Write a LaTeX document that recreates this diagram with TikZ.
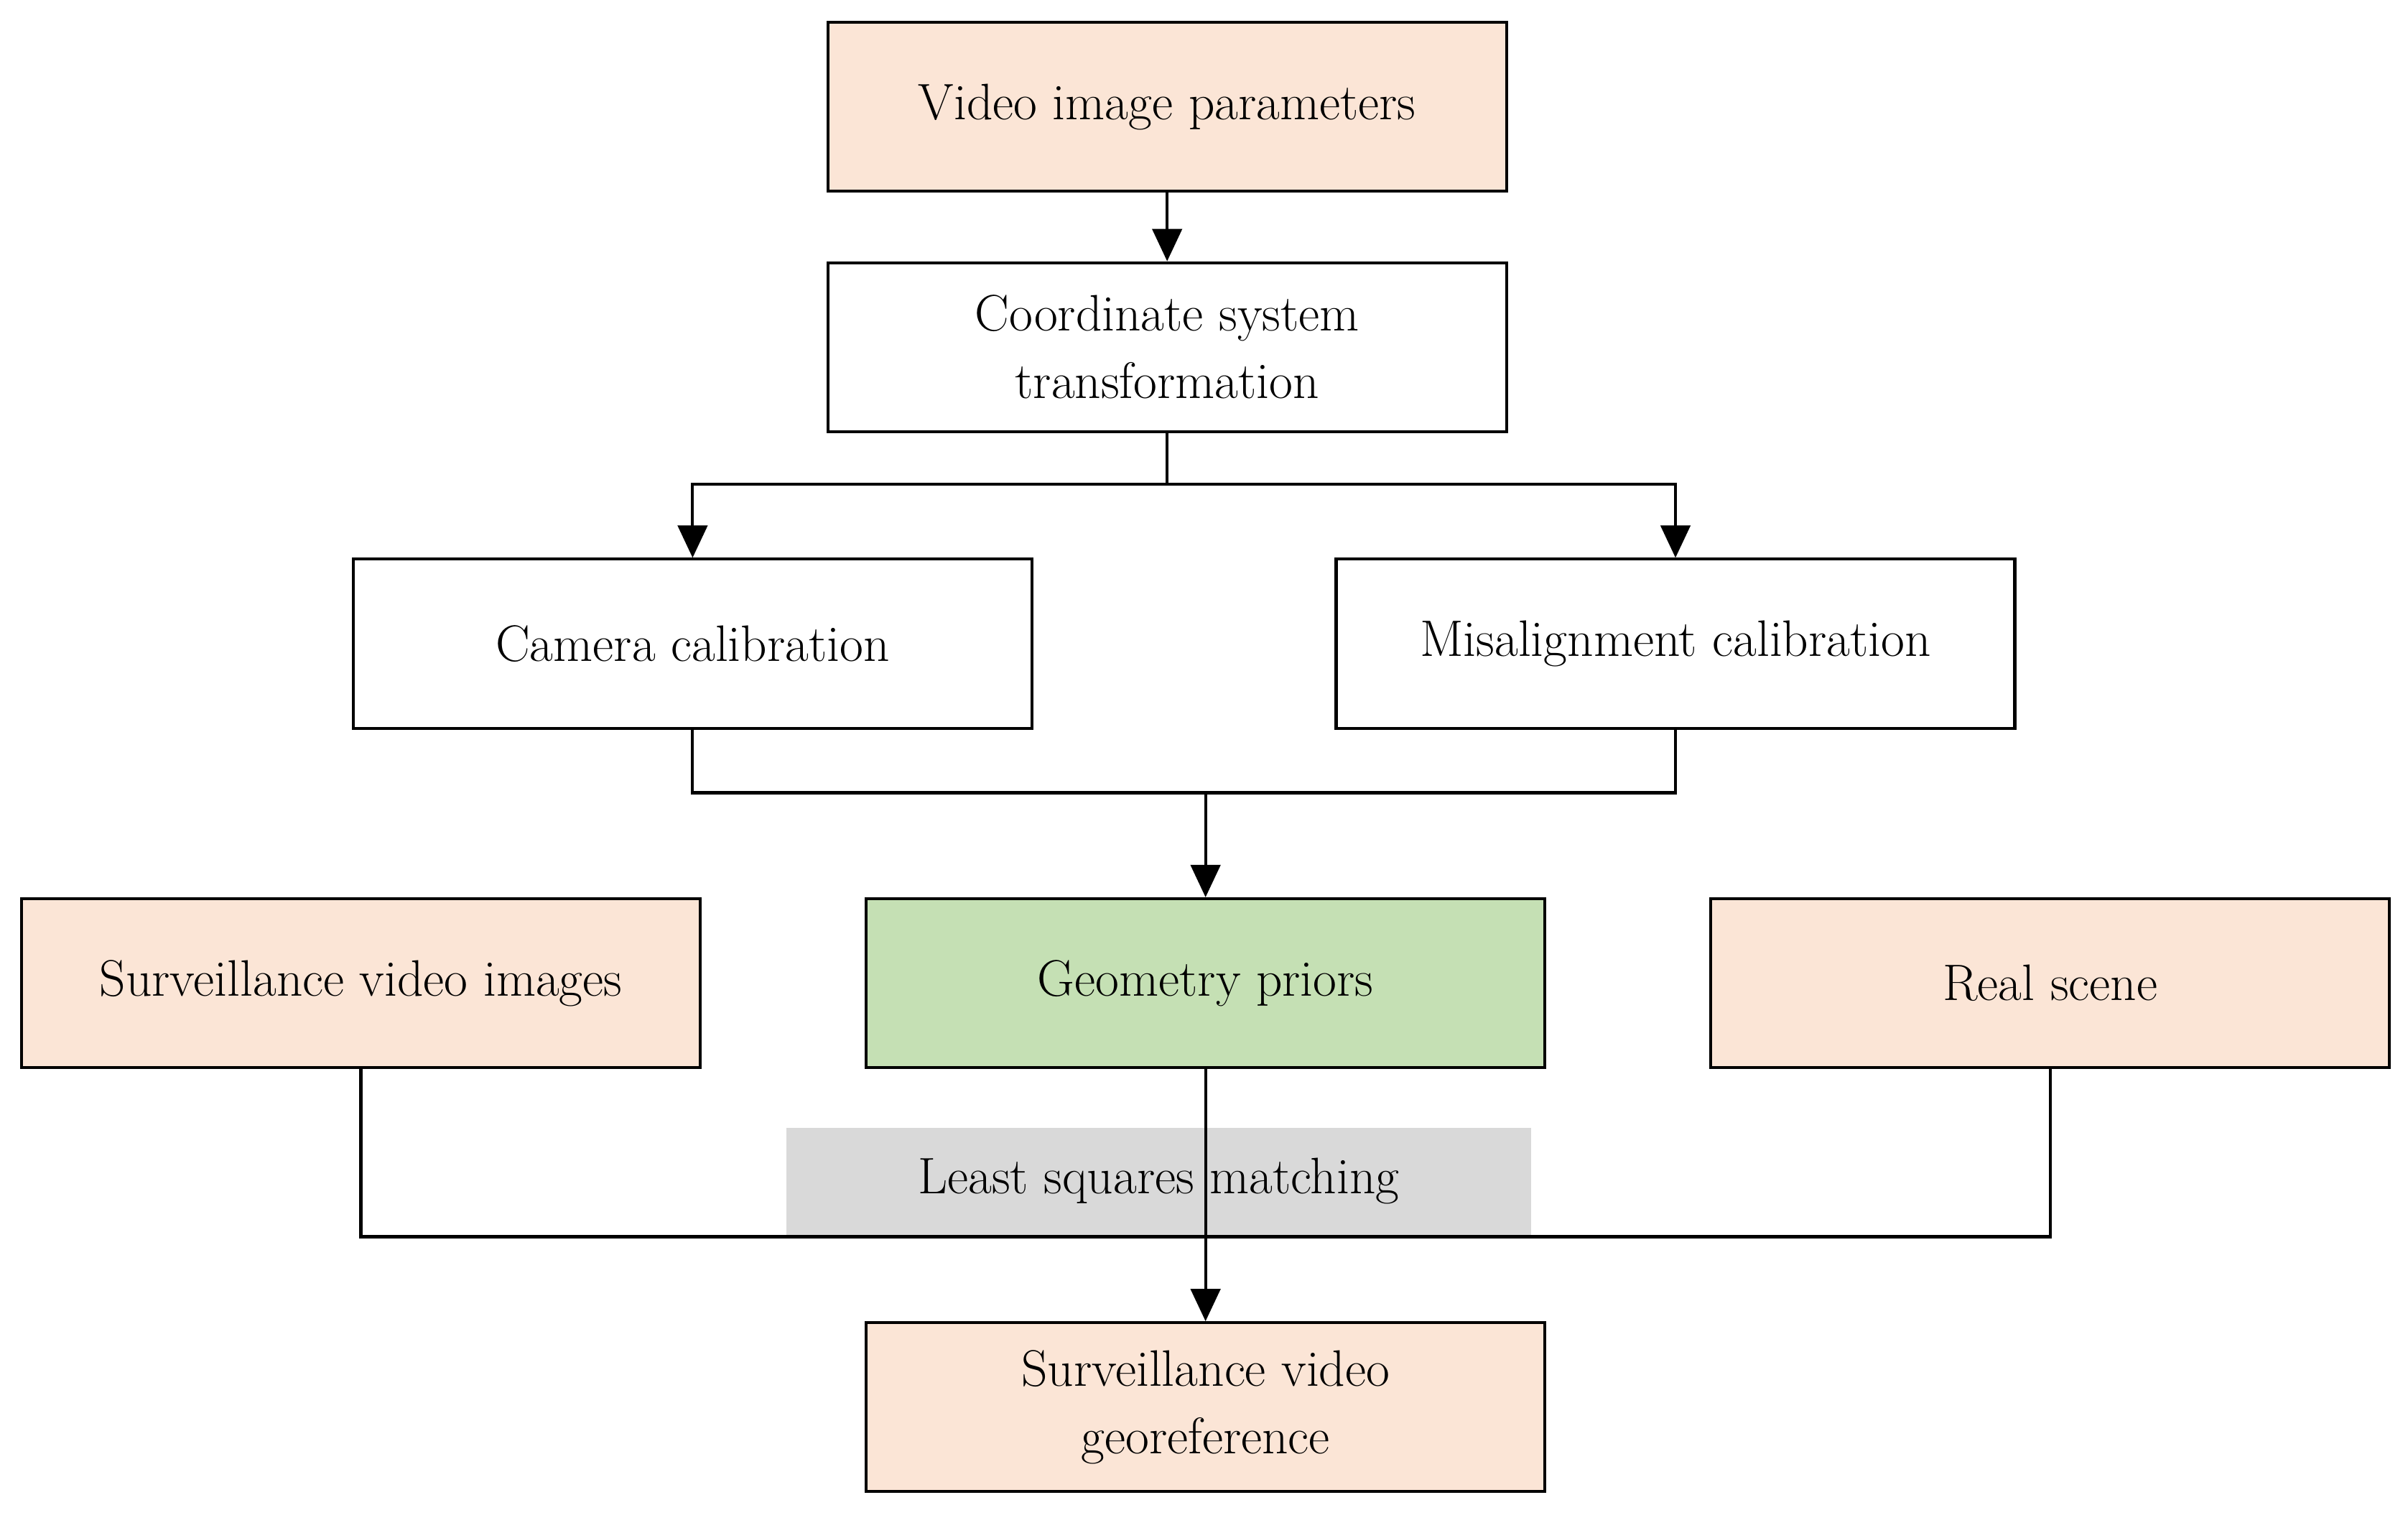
\documentclass[tikz,border=0pt]{standalone}
\usetikzlibrary{arrows.meta}
\definecolor{peach}{HTML}{FBE5D6}
\definecolor{grn}{HTML}{C5E0B4}
\definecolor{gry}{HTML}{D9D9D9}
\begin{document}
\begin{tikzpicture}[x=0.02cm,y=-0.02cm,
  box/.style={draw,line width=1.1pt,minimum width=8.84cm,minimum height=2.2cm,align=center,font=\fontsize{19}{25}\selectfont,inner sep=0pt},
  ln/.style={line width=1.1pt},
  ar/.style={ln,-{Triangle[length=12pt,width=11pt]}}]
\useasboundingbox (0,0) rectangle (1568,991);
\node[box,fill=peach] (vip) at (760,69.5) {Video image parameters};
\node[box] (cst) at (760,226) {Coordinate system\\transformation};
\node[box] (cc) at (451,419) {Camera calibration};
\node[box] (mc) at (1091,419) {Misalignment calibration};
\node[box,fill=peach] (svi) at (235,640) {Surveillance video images};
\node[box,fill=grn] (gp) at (785,640) {Geometry priors};
\node[box,fill=peach] (rs) at (1335,640) {Real scene};
\node[box,fill=peach] (svg) at (785,916) {Surveillance video\\georeference};
\node[fill=gry,minimum width=9.7cm,minimum height=1.4cm,font=\fontsize{19}{25}\selectfont,inner sep=0pt] (lsm) at (754.5,769) {Least squares matching};
\coordinate (j1) at (760,315);
\coordinate (j2) at (785,516);
\coordinate (j3) at (785,805);
\draw[ar] (vip) -- (cst);
\draw[ln] (cst.south) -- (j1);
\draw[ar] (j1) -| (cc.north);
\draw[ar] (j1) -| (mc.north);
\draw[ln] (cc.south) |- (j2) -| (mc.south);
\draw[ar] (j2) -- (gp.north);
\draw[ln] (svi.south) |- (j3) -| (rs.south);
\draw[ar] (gp.south) -- (svg.north);
\end{tikzpicture}
\end{document}
